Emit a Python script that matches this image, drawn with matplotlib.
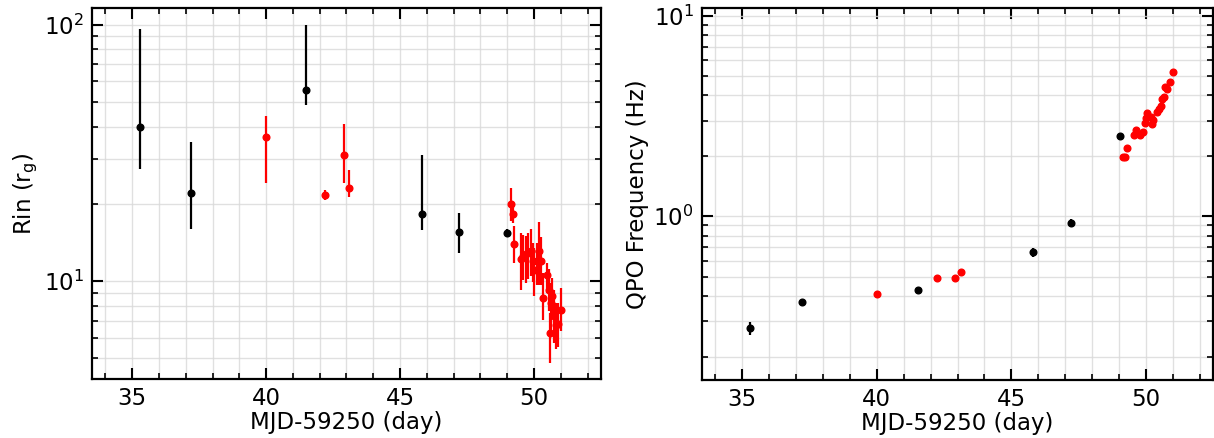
import matplotlib
matplotlib.use("Agg")
import matplotlib.pyplot as plt
from matplotlib.ticker import LogLocator, MultipleLocator, NullFormatter

# ---------------- Data: left panel (Rin) ----------------
rin_black_x = [35.3, 37.19, 41.49, 45.81, 47.21, 49.0]
rin_black_y = [40.0, 22.0, 55.6, 18.2, 15.5, 15.4]
rin_black_lo = [27.4, 16.0, 48.7, 15.8, 12.8, 14.9]
rin_black_hi = [96.4, 34.8, 99.3, 31.1, 18.4, 16.0]

rin_red_x = [40.0, 42.2, 42.91, 43.11,
             49.13, 49.22, 49.27, 49.50, 49.60, 49.69, 49.79, 49.87, 49.95,
             50.01, 50.10, 50.19, 50.26, 50.35, 50.47, 50.56, 50.60, 50.62,
             50.68, 50.75, 50.82, 50.91, 50.99]
rin_red_y = [36.3, 21.7, 31.0, 23.1,
             20.0, 18.2, 13.9, 12.2, 12.5, 12.75, 12.9, 13.1, 11.9,
             11.0, 11.9, 13.1, 12.0, 8.55, 10.55, 9.2, 6.25, 8.2,
             8.7, 7.26, 6.73, 6.8, 7.7]
rin_red_lo = [24.1, 20.6, 24.1, 21.2,
              17.1, 16.8, 11.7, 9.2, 10.1, 9.8, 10.2, 10.4, 9.9,
              8.7, 9.6, 9.6, 9.6, 7.04, 9.0, 7.6, 4.8, 6.25,
              7.1, 5.7, 5.4, 5.5, 6.4]
rin_red_hi = [44.1, 22.7, 40.9, 27.0,
              23.0, 19.5, 16.3, 15.4, 15.1, 14.9, 15.4, 15.9, 14.1,
              13.4, 14.1, 16.9, 14.8, 10.7, 11.7, 11.1, 7.5, 9.8,
              10.3, 9.2, 8.2, 8.2, 9.4]

# ---------------- Data: right panel (QPO frequency) ----------------
qpo_black_x = [35.3, 37.2, 41.52, 45.82, 47.22, 49.03]
qpo_black_y = [0.277, 0.373, 0.43, 0.661, 0.93, 2.52]
qpo_black_err = [0.022, 0.006, 0.006, 0.035, 0.04, 0.03]

qpo_red_x = [40.0, 42.22, 42.92, 43.12,
             49.15, 49.22, 49.31, 49.55, 49.64, 49.78, 49.88, 49.96, 50.02,
             50.05, 50.18, 50.24, 50.28, 50.40, 50.49, 50.55, 50.60, 50.66,
             50.71, 50.80, 50.90, 51.0]
qpo_red_y = [0.409, 0.494, 0.494, 0.525,
             1.97, 1.98, 2.20, 2.53, 2.68, 2.54, 2.64, 2.91, 3.08,
             3.26, 3.14, 2.88, 3.02, 3.29, 3.42, 3.56, 3.85, 3.92,
             4.43, 4.32, 4.66, 5.23]
qpo_red_err = [0.008] * 4 + [0.03] * 22

# ---------------- Figure ----------------
plt.rcParams['font.family'] = ['DejaVu Sans']
fig = plt.figure(figsize=(12.14, 4.38), dpi=100)
ax1 = fig.add_axes([92 / 1214, 59 / 438, 509 / 1214, 371 / 438])
ax2 = fig.add_axes([702 / 1214, 58 / 438, 511 / 1214, 372 / 438])

ms = 4.8
elw = 1.6

def err_asym(y, lo, hi):
    return [[yy - l for yy, l in zip(y, lo)], [h - yy for yy, h in zip(y, hi)]]

ax1.errorbar(rin_black_x, rin_black_y, yerr=err_asym(rin_black_y, rin_black_lo, rin_black_hi),
             fmt='o', color='black', ms=ms, elinewidth=elw, capsize=0, zorder=3)
ax1.errorbar(rin_red_x, rin_red_y, yerr=err_asym(rin_red_y, rin_red_lo, rin_red_hi),
             fmt='o', color='red', ms=ms, elinewidth=elw, capsize=0, zorder=3)

ax2.errorbar(qpo_black_x, qpo_black_y, yerr=qpo_black_err,
             fmt='o', color='black', ms=ms, elinewidth=elw, capsize=0, zorder=3)
ax2.errorbar(qpo_red_x, qpo_red_y, yerr=qpo_red_err,
             fmt='o', color='red', ms=ms, elinewidth=elw, capsize=0, zorder=3)

for ax in (ax1, ax2):
    ax.set_yscale('log')
    ax.set_xlim(33.5, 52.5)
    ax.xaxis.set_major_locator(MultipleLocator(5))
    ax.xaxis.set_minor_locator(MultipleLocator(1))
    ax.yaxis.set_minor_locator(LogLocator(base=10, subs=range(2, 10), numticks=20))
    ax.yaxis.set_minor_formatter(NullFormatter())
    ax.tick_params(which='both', direction='in', top=True, right=True, labelsize=16.5, pad=6)
    ax.tick_params(which='major', length=8, width=1.5)
    ax.tick_params(which='minor', length=4, width=1.2)
    for s in ax.spines.values():
        s.set_linewidth(1.6)
    ax.grid(which='both', color='#d9d9d9', linewidth=1.0, alpha=0.8)
    ax.set_axisbelow(True)
    ax.set_xlabel('MJD-59250 (day)', fontsize=16.5, labelpad=0.8)

ax1.set_ylim(4.14, 116)
ax2.set_ylim(0.153, 10.9)
ax1.set_ylabel(r'Rin (r$_\mathrm{g}$)', fontsize=16.5)
ax2.set_ylabel('QPO Frequency (Hz)', fontsize=16.5)
ax1.yaxis.set_label_coords(-0.103, 0.5)
ax2.yaxis.set_label_coords(-0.103, 0.5)

fig.savefig('out.png', dpi=100)
